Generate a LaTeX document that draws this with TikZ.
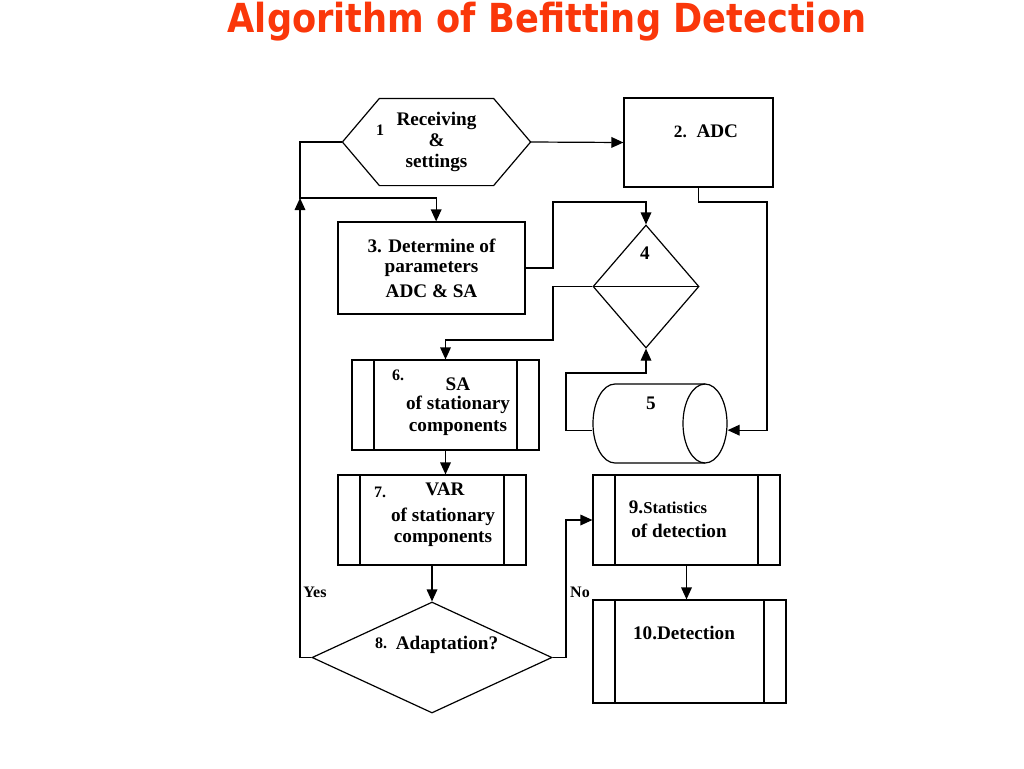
\documentclass[tikz,border=0pt]{standalone}
\usepackage{fontspec}
\setmainfont{Liberation Serif}
\newfontfamily\titlefont[FakeStretch=0.88]{DejaVu Sans}
\usepackage{tikz}
\usetikzlibrary{arrows.meta,shapes.geometric}
\definecolor{titlered}{RGB}{250,55,10}
\tikzset{
  %Define standard arrow tip
  >={Triangle[length=9pt,width=8pt]},
  %Define style for boxes
  blok/.style={
    rectangle,
    draw=black, line width=0.9pt,
    inner sep=0pt,
    font=\fontsize{14.4}{15.5}\selectfont\bfseries,
    align=center},
  %Define style for boxes with side bars
  proces/.style={
    blok,
    path picture={
      \draw[line width=0.9pt]
        ([xshift=16.5pt]path picture bounding box.north west) --
        ([xshift=16.5pt]path picture bounding box.south west)
        ([xshift=-16.5pt]path picture bounding box.north east) --
        ([xshift=-16.5pt]path picture bounding box.south east);}},
  %Define style for decisions
  ruit/.style={
    diamond,
    draw=black, line width=0.9pt,
    inner sep=0pt},
  % Define text styles
  tekst/.style={inner sep=0pt, align=center,
    font=\fontsize{14.4}{15.5}\selectfont\bfseries},
  nummer/.style={inner sep=0pt, font=\fontsize{12}{12}\selectfont\bfseries},
  % Define arrow style
  pijl/.style={->, line width=0.9pt}
}

\begin{document}
\begin{tikzpicture}[x=0.75pt,y=-0.75pt]
  \useasboundingbox (0,0) rectangle (1024,768);

  \node[text=titlered, font=\titlefont\fontsize{30}{30}\selectfont\bfseries] (titel) at (547,22)
    {Algorithm of Befitting Detection};

  % boxes
  \node[blok, draw=none, minimum width=140.25pt, minimum height=64.5pt] (ontvang) at (436.5,142)
    {Receiving\\\&\\settings};
  \draw[line width=0.9pt] (ontvang.west) -- ([xshift=27.75pt]ontvang.north west)
    -- ([xshift=-27.75pt]ontvang.north east) -- (ontvang.east)
    -- ([xshift=-27.75pt]ontvang.south east) -- ([xshift=27.75pt]ontvang.south west) -- cycle;
  \node[blok, minimum width=111.75pt, minimum height=66.75pt] (adc) at (698.5,142.5) {};
  \node[blok, minimum width=140.25pt, minimum height=69pt] (param) at (431.5,268)
    {3. Determine of\\parameters\\[3pt]ADC \& SA};
  \node[ruit, minimum width=79.5pt, minimum height=92.25pt,
    path picture={\draw[line width=0.9pt] (path picture bounding box.west) -- (path picture bounding box.east);}]
    (vier) at (646,286.5) {};
  \node[blok, draw=none, minimum width=100.5pt, minimum height=59.25pt] (opslag) at (660,423.5) {};
  \draw[line width=0.9pt] (705,384) -- (615,384)
    arc[start angle=90, end angle=270, x radius=16.5pt, y radius=29.625pt] -- (705,463);
  \draw[line width=0.9pt] (705,423.5) ellipse [x radius=16.5pt, y radius=29.625pt];
  \node[proces, minimum width=140.25pt, minimum height=67.5pt] (sa) at (445.5,405) {};
  \node[proces, minimum width=141pt, minimum height=67.5pt] (var) at (432,520) {};
  \node[ruit, minimum width=180pt, minimum height=83.25pt] (adapt) at (432,657.5) {};
  \node[proces, minimum width=140.25pt, minimum height=67.5pt] (stat) at (686.5,520) {};
  \node[proces, minimum width=144.75pt, minimum height=77.25pt] (detect) at (689.5,651.5) {};

  % texts
  \node[nummer] (n1) at (380,130) {1};
  \node[tekst] (t2) at (706,131) {{\fontsize{13}{13}\selectfont 2.}\ \ ADC};
  \node[tekst] (n4) at (645,253) {4};
  \node[tekst] (n5) at (651,403) {5};
  \node[nummer] (n6) at (398,375) {6.};
  \node[tekst] (t6) at (458,407) {SA\\[-1.5pt]of stationary\\[1pt]components};
  \node[nummer] (n7) at (380,492) {7.};
  \node[tekst] (t7a) at (445,489) {VAR};
  \node[tekst] (t7b) at (443,527) {of stationary\\components};
  \node[nummer] (n8) at (381,643) {8.};
  \node[tekst] (t8) at (447,645) {Adaptation?};
  \node[tekst] (t9a) at (668,507) {9.{\fontsize{12.5}{13}\selectfont Statistics}};
  \node[tekst] (t9b) at (679,531) {of detection};
  \node[tekst] (t10) at (684,633) {10.Detection};
  \node[nummer] (ja) at (315,592) {Yes};
  \node[nummer] (nee) at (580,592) {No};

  \coordinate (lus) at (300,198);

  % connectors
  \draw[pijl] (ontvang.east) -- (adc.west);
  \draw[pijl] (ontvang.west) -| (lus) -| ([xshift=3.5pt]param.north);
  \draw[pijl] (adapt.west) -| (lus);
  \draw[pijl] (param.east) -| (553,202) -| (vier.north);
  \draw[pijl] (adc.south) |- (767,202) |- ([yshift=-5pt]opslag.east);
  \draw[pijl] (vier.west) -| (553,340) -| (sa.north);
  \draw[pijl] ([yshift=-5pt]opslag.west) -| (566,373) -| (vier.south);
  \draw[pijl] (sa.south) -- (sa.south |- var.north);
  \draw[pijl] (var.south) -- (adapt.north);
  \draw[pijl] (adapt.east) -| (566,520) -- (stat.west);
  \draw[pijl] (stat.south) -- (stat.south |- detect.north);
\end{tikzpicture}
\end{document}
